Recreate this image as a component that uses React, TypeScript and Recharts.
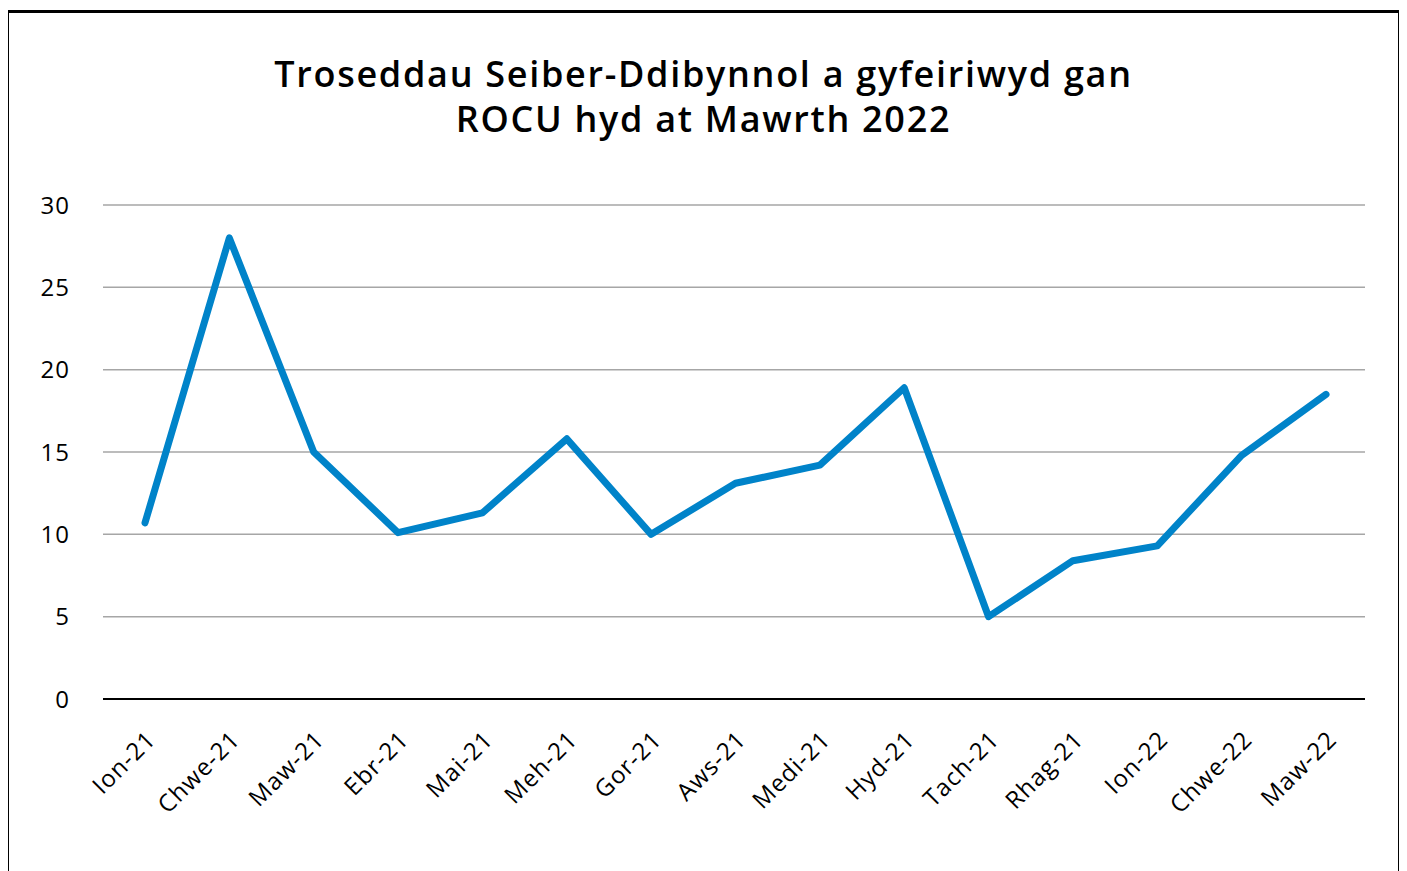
import { LineChart, Line, XAxis, YAxis, CartesianGrid } from "recharts";

const months = [
  "Ion-21", "Chwe-21", "Maw-21", "Ebr-21", "Mai-21", "Meh-21", "Gor-21", "Aws-21",
  "Medi-21", "Hyd-21", "Tach-21", "Rhag-21", "Ion-22", "Chwe-22", "Maw-22",
];
const offences = [10.7, 28, 15, 10.1, 11.3, 15.8, 10, 13.1, 14.2, 18.9, 5, 8.4, 9.3, 14.8, 18.5];
const yTicks = [0, 5, 10, 15, 20, 25, 30];

const data = months.map((m, i) => ({ month: m, value: offences[i] }));

const font = "'Open Sans', sans-serif";
const tickStyle = { fill: "#000", fontSize: 24, fontFamily: font, letterSpacing: 1 };

export default function App() {
  return (
    <div
      style={{
        position: "relative",
        marginLeft: -2,
        marginTop: 2,
        width: 1389,
        height: 880,
        border: "3px solid #000",
        background: "#fff",
        fontFamily: font,
      }}
    >
      <div
        style={{
          position: "absolute",
          top: 38,
          left: 0,
          width: "100%",
          textAlign: "center",
          fontSize: 36,
          fontWeight: 600,
          letterSpacing: 1.7,
          lineHeight: "45px",
          color: "#000",
        }}
      >
        Troseddau Seiber-Ddibynnol a gyfeiriwyd gan
        <br />
        ROCU hyd at Mawrth 2022
      </div>
      <div style={{ position: "absolute", top: 0, left: 0 }}>
        <LineChart
          width={1389}
          height={870}
          data={data}
          margin={{ top: 192, right: 33, left: 34, bottom: 0 }}
        >
          <CartesianGrid vertical={false} stroke="#a6a6a6" strokeWidth={1.5} />
          <XAxis
            dataKey="month"
            axisLine={{ stroke: "#000", strokeWidth: 2 }}
            tickLine={false}
            tickSize={0}
            tickMargin={30}
            angle={-45}
            textAnchor="end"
            interval={0}
            height={184}
            padding={{ left: 42, right: 39 }}
            tick={tickStyle}
          />
          <YAxis
            domain={[0, 30]}
            ticks={yTicks}
            axisLine={false}
            tickLine={false}
            tickSize={0}
            tickMargin={33}
            width={60}
            tick={tickStyle}
          />
          <Line
            type="linear"
            dataKey="value"
            stroke="#0083c9"
            strokeWidth={7}
            strokeLinecap="round"
            strokeLinejoin="round"
            dot={false}
            activeDot={false}
            isAnimationActive={false}
          />
        </LineChart>
      </div>
    </div>
  );
}
